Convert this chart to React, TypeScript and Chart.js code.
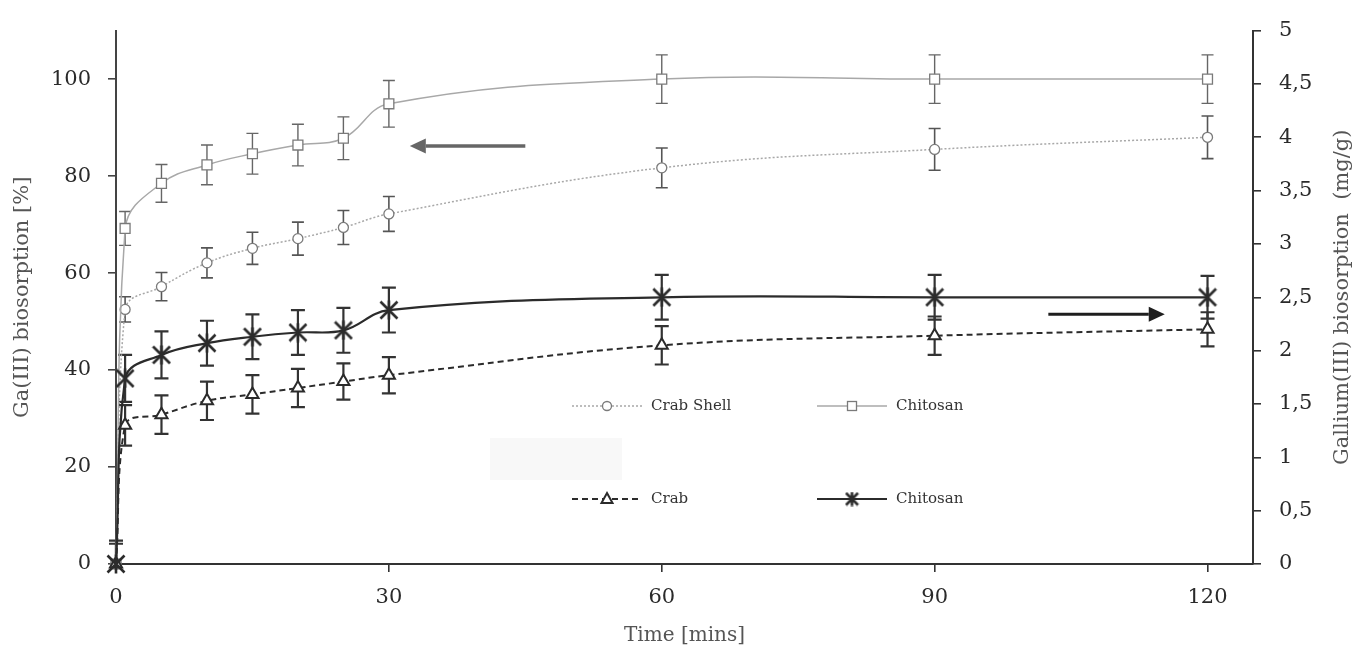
import React, { useEffect, useRef } from 'react';
import { Chart, registerables } from 'chart.js';

Chart.register(...registerables);

// ---------------- data ----------------
const times = [0, 1, 5, 10, 15, 20, 25, 30, 60, 90, 120];

// left axis: Ga(III) biosorption [%]
const crabShellPct = [0, 52.5, 57.2, 62.1, 65.1, 67.1, 69.4, 72.2, 81.7, 85.5, 88.0];
const crabShellPctErr = [0, 2.6, 2.9, 3.1, 3.3, 3.4, 3.5, 3.6, 4.1, 4.3, 4.4];
const chitosanPct = [0, 69.2, 78.5, 82.3, 84.6, 86.4, 87.8, 94.9, 100.0, 100.0, 100.0];
const chitosanPctErr = [0, 3.5, 3.9, 4.1, 4.2, 4.3, 4.4, 4.8, 5.0, 5.0, 5.0];

// right axis: Gallium(III) biosorption (mg/g)
const crabMg = [0, 1.3, 1.4, 1.53, 1.59, 1.65, 1.71, 1.77, 2.05, 2.14, 2.2];
const crabMgErr = [0.19, 0.19, 0.18, 0.18, 0.18, 0.18, 0.17, 0.17, 0.18, 0.18, 0.16];
const chitosanMg = [0, 1.74, 1.96, 2.07, 2.13, 2.17, 2.19, 2.38, 2.5, 2.5, 2.5];
const chitosanMgErr = [0.22, 0.22, 0.22, 0.21, 0.21, 0.21, 0.21, 0.21, 0.21, 0.21, 0.2];

const xTicks = [0, 30, 60, 90, 120];
const leftTicks = [0, 20, 40, 60, 80, 100];
const rightTicks = [0, 0.5, 1, 1.5, 2, 2.5, 3, 3.5, 4, 4.5, 5];
const rightTickLabels = ['0', '0,5', '1', '1,5', '2', '2,5', '3', '3,5', '4', '4,5', '5'];

const seriesLabels = ['Crab Shell', 'Chitosan', 'Crab', 'Chitosan'];
const xTitle = 'Time [mins]';
const leftTitle = 'Ga(III) biosorption [%]';
const rightTitle = 'Gallium(III) biosorption  (mg/g)';

// ---------------- styles ----------------
const FONT = "'DejaVu Serif', 'Liberation Serif', serif";
const LIGHT = '#a8a8a8';
const LIGHT_MARK = '#7a7a7a';
const DARK = '#2b2b2b';

function makeStar(size: number, color: string, lw: number) {
  const c = document.createElement('canvas');
  c.width = size;
  c.height = size;
  const g = c.getContext('2d')!;
  g.strokeStyle = color;
  g.lineWidth = lw;
  const m = size / 2;
  const r = size / 2 - 1.5;
  g.beginPath();
  g.moveTo(m - r, m - r);
  g.lineTo(m + r, m + r);
  g.moveTo(m + r, m - r);
  g.lineTo(m - r, m + r);
  g.moveTo(m, m - r - 1);
  g.lineTo(m, m + r + 1);
  g.stroke();
  return c;
}

const pts = (vals: number[]) => times.map((t, i) => ({ x: t, y: vals[i] }));

export default function App() {
  const ref = useRef<HTMLCanvasElement | null>(null);

  useEffect(() => {
    if (!ref.current) return;
    const star = makeStar(20, DARK, 2.6);
    const starSmall = makeStar(15, DARK, 2.6);

    const errors: { [k: number]: { err: number[]; color: string; width: number; cap: number } } = {
      0: { err: crabShellPctErr, color: '#555', width: 1.6, cap: 12 },
      1: { err: chitosanPctErr, color: '#666', width: 1.4, cap: 12 },
      2: { err: crabMgErr, color: '#333', width: 2.2, cap: 14 },
      3: { err: chitosanMgErr, color: '#333', width: 2.2, cap: 14 },
    };

    const errorBars = {
      id: 'errorBars',
      beforeDatasetsDraw(chart: any) {
        const ctx = chart.ctx;
        const area = chart.chartArea;
        // faint box seen in the legend area
        ctx.save();
        ctx.fillStyle = '#f8f8f8';
        ctx.fillRect(490, 438, 132, 42);
        ctx.restore();
        chart.data.datasets.forEach((ds: any, i: number) => {
          const e = errors[i];
          if (!e) return;
          const ys = chart.scales[ds.yAxisID];
          const xs = chart.scales.x;
          ctx.save();
          ctx.beginPath();
          ctx.rect(area.left - 20, area.top - 2, area.right - area.left + 40, area.bottom - area.top + 1);
          ctx.clip();
          ctx.strokeStyle = e.color;
          ctx.lineWidth = e.width;
          ds.data.forEach((p: any, j: number) => {
            const d = e.err[j];
            if (!d) return;
            const x = xs.getPixelForValue(p.x);
            const y1 = ys.getPixelForValue(p.y + d);
            const y2 = ys.getPixelForValue(p.y - d);
            ctx.beginPath();
            ctx.moveTo(x, y1);
            ctx.lineTo(x, y2);
            ctx.moveTo(x - e.cap / 2, y1);
            ctx.lineTo(x + e.cap / 2, y1);
            ctx.moveTo(x - e.cap / 2, y2);
            ctx.lineTo(x + e.cap / 2, y2);
            ctx.stroke();
          });
          ctx.restore();
        });
      },
    };

    const arrows = [
      { from: 45, to: 32.3, y: 86.2, axis: 'y', color: '#666', lw: 3.5 },
      { from: 102.5, to: 115.3, y: 2.34, axis: 'y1', color: '#1e1e1e', lw: 3 },
    ];

    const decorations = {
      id: 'decorations',
      afterDatasetsDraw(chart: any) {
        const ctx = chart.ctx;
        const xs = chart.scales.x;
        // arrows
        arrows.forEach((a) => {
          const ys = chart.scales[a.axis];
          const x0 = xs.getPixelForValue(a.from);
          const x1 = xs.getPixelForValue(a.to);
          const y = ys.getPixelForValue(a.y);
          const dir = Math.sign(x1 - x0);
          const head = 16;
          ctx.save();
          ctx.strokeStyle = a.color;
          ctx.fillStyle = a.color;
          ctx.lineWidth = a.lw;
          ctx.beginPath();
          ctx.moveTo(x0, y);
          ctx.lineTo(x1 - dir * head, y);
          ctx.stroke();
          ctx.beginPath();
          ctx.moveTo(x1, y);
          ctx.lineTo(x1 - dir * head, y - 7.5);
          ctx.lineTo(x1 - dir * head, y + 7.5);
          ctx.closePath();
          ctx.fill();
          ctx.restore();
        });

        // legend
        const rows = [406, 499];
        const cols = [572, 817];
        const items = [
          { ds: 0, col: 0, row: 0 },
          { ds: 1, col: 1, row: 0 },
          { ds: 2, col: 0, row: 1 },
          { ds: 3, col: 1, row: 1 },
        ];
        items.forEach((it) => {
          const ds: any = chart.data.datasets[it.ds];
          const x = cols[it.col];
          const y = rows[it.row];
          const len = 70;
          ctx.save();
          ctx.strokeStyle = ds.borderColor;
          ctx.lineWidth = ds.borderWidth;
          ctx.setLineDash(ds.borderDash || []);
          ctx.beginPath();
          ctx.moveTo(x, y);
          ctx.lineTo(x + len, y);
          ctx.stroke();
          ctx.setLineDash([]);
          const cx = x + len / 2;
          ctx.fillStyle = '#fff';
          ctx.strokeStyle = ds.pointBorderColor;
          ctx.lineWidth = 1.3;
          if (ds.pointStyle === 'circle') {
            ctx.beginPath();
            ctx.arc(cx, y, 4.5, 0, Math.PI * 2);
            ctx.fill();
            ctx.stroke();
          } else if (ds.pointStyle === 'rect') {
            ctx.fillRect(cx - 4.5, y - 4.5, 9, 9);
            ctx.strokeRect(cx - 4.5, y - 4.5, 9, 9);
          } else if (ds.pointStyle === 'triangle') {
            ctx.lineWidth = 2;
            ctx.beginPath();
            ctx.moveTo(cx, y - 6);
            ctx.lineTo(cx + 5.5, y + 4);
            ctx.lineTo(cx - 5.5, y + 4);
            ctx.closePath();
            ctx.fill();
            ctx.stroke();
          } else {
            ctx.drawImage(starSmall, cx - 7.5, y - 7.5);
          }
          ctx.fillStyle = '#333';
          ctx.font = `15px ${FONT}`;
          ctx.textBaseline = 'middle';
          ctx.textAlign = 'left';
          ctx.fillText(ds.label, x + len + 9, y);
          ctx.restore();
        });

        // right axis title (reads bottom to top)
        const r = chart.scales.y1;
        ctx.save();
        ctx.translate(1343, (r.top + r.bottom) / 2);
        ctx.rotate(-Math.PI / 2);
        ctx.fillStyle = '#555';
        ctx.font = `21px ${FONT}`;
        ctx.textAlign = 'center';
        ctx.textBaseline = 'middle';
        ctx.fillText(rightTitle, 0, 0);
        ctx.restore();
      },
    };

    const chart = new Chart(ref.current, {
      type: 'line',
      data: {
        datasets: [
          {
            label: seriesLabels[0],
            data: pts(crabShellPct),
            yAxisID: 'y',
            borderColor: LIGHT,
            borderWidth: 1.5,
            borderDash: [2, 2],
            pointStyle: 'circle',
            pointRadius: 5,
            pointBackgroundColor: '#fff',
            pointBorderColor: LIGHT_MARK,
            pointBorderWidth: 1.3,
            tension: 0.4,
            clip: false,
            order: 4,
          },
          {
            label: seriesLabels[1],
            data: pts(chitosanPct),
            yAxisID: 'y',
            borderColor: LIGHT,
            borderWidth: 1.5,
            pointStyle: 'rect',
            pointRadius: 7,
            pointBackgroundColor: '#fff',
            pointBorderColor: LIGHT_MARK,
            pointBorderWidth: 1.3,
            tension: 0.4,
            clip: false,
            order: 3,
          },
          {
            label: seriesLabels[2],
            data: pts(crabMg),
            yAxisID: 'y1',
            borderColor: DARK,
            borderWidth: 2,
            borderDash: [6, 4],
            pointStyle: 'triangle',
            pointRadius: 7,
            pointBackgroundColor: '#fff',
            pointBorderColor: DARK,
            pointBorderWidth: 2,
            tension: 0.4,
            clip: false,
            order: 2,
          },
          {
            label: seriesLabels[3],
            data: pts(chitosanMg),
            yAxisID: 'y1',
            borderColor: DARK,
            borderWidth: 2.2,
            pointStyle: star as any,
            pointRadius: 10,
            pointBorderColor: DARK,
            tension: 0.4,
            clip: false,
            order: 1,
          },
        ] as any,
      },
      options: {
        animation: false,
        responsive: true,
        maintainAspectRatio: false,
        layout: { padding: { top: 23, left: 0, right: 0, bottom: 0 } },
        font: { family: FONT },
        plugins: {
          legend: { display: false },
          tooltip: { enabled: false },
        },
        scales: {
          x: {
            type: 'linear',
            min: 0,
            max: 125,
            afterBuildTicks: (s: any) => {
              s.ticks = xTicks.map((v) => ({ value: v }));
            },
            afterFit: (s: any) => {
              s.height = 86;
            },
            grid: { drawOnChartArea: false, drawTicks: true, tickLength: 8, color: '#333', lineWidth: 1.6 },
            border: { display: true, color: '#333', width: 2 },
            ticks: { color: '#2a2a2a', font: { family: FONT, size: 21 }, padding: 13, maxRotation: 0, autoSkip: false },
            title: {
              display: true,
              text: xTitle,
              color: '#555',
              font: { family: FONT, size: 20 },
              padding: { top: 0, bottom: 2 },
            },
          },
          y: {
            type: 'linear',
            position: 'left',
            min: 0,
            max: 110,
            afterBuildTicks: (s: any) => {
              s.ticks = leftTicks.map((v) => ({ value: v }));
            },
            afterFit: (s: any) => {
              s.width = 116;
            },
            grid: { drawOnChartArea: false, drawTicks: true, tickLength: 8, color: '#444', lineWidth: 1.6 },
            border: { display: true, color: '#444', width: 2 },
            ticks: { color: '#2a2a2a', font: { family: FONT, size: 21 }, padding: 17 },
            title: {
              display: true,
              text: leftTitle,
              color: '#555',
              font: { family: FONT, size: 21 },
              padding: { top: 10, bottom: 0 },
            },
          },
          y1: {
            type: 'linear',
            position: 'right',
            min: 0,
            max: 5,
            afterBuildTicks: (s: any) => {
              s.ticks = rightTicks.map((v) => ({ value: v }));
            },
            afterFit: (s: any) => {
              s.width = 105;
            },
            grid: { drawOnChartArea: false, drawTicks: true, tickLength: 8, color: '#333', lineWidth: 1.6 },
            border: { display: true, color: '#333', width: 2 },
            ticks: {
              color: '#2a2a2a',
              font: { family: FONT, size: 21 },
              padding: 18,
              callback: (v: any) => rightTickLabels[rightTicks.indexOf(Number(v))],
            },
            title: { display: false },
          },
        },
      } as any,
      plugins: [errorBars, decorations],
    });
    return () => chart.destroy();
  }, []);

  return (
    <div style={{ position: 'absolute', left: 0, top: 0, width: 1358, height: 650, background: '#fff' }}>
      <canvas ref={ref} />
    </div>
  );
}
